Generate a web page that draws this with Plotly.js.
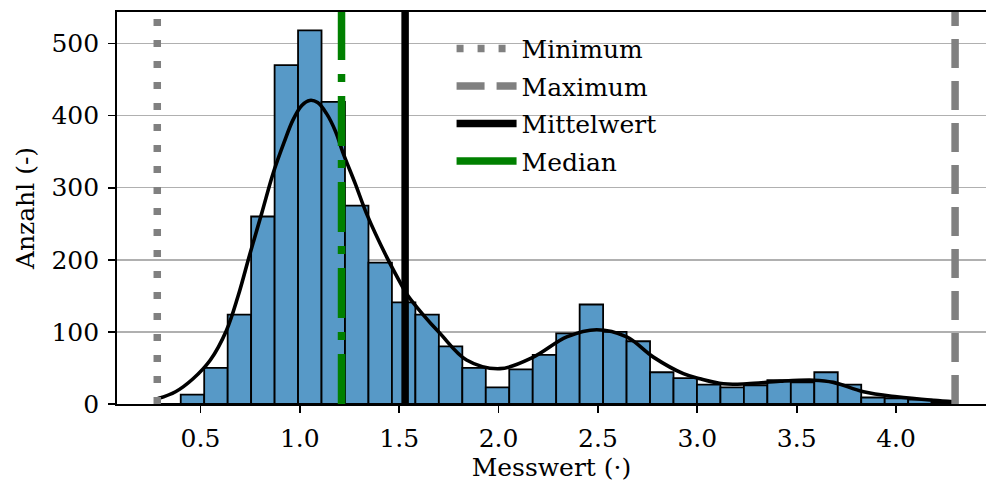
<!DOCTYPE html>
<html>
<head>
<meta charset="utf-8">
<script src="https://cdn.plot.ly/plotly-3.0.1.min.js"></script>
<style>html,body{margin:0;padding:0;background:#fff;}#chart{width:986px;height:482px;}</style>
</head>
<body>
<div id="chart"></div>
<script>
// ---- data ----
const minVal = 0.283;
const maxVal = 4.297;
const meanVal = 1.530;
const medianVal = 1.210;
const binCount = 34;
const binCounts = [0, 13, 50, 124, 260, 470, 518, 419, 275, 196, 141, 124, 80, 50, 23, 48, 68, 98, 138, 100, 87, 44, 36, 27, 23, 26, 33, 30, 44, 27, 9, 8, 6, 2];
const kdeX = [0.2865, 0.375, 0.463, 0.55, 0.631, 0.69, 0.748, 0.81, 0.866, 0.92, 0.966, 1.01, 1.050, 1.09, 1.134, 1.18, 1.218, 1.28, 1.336, 1.437, 1.517, 1.537, 1.62, 1.705, 1.839, 2.007, 2.175, 2.343, 2.494, 2.645, 2.779, 2.930, 3.014, 3.131, 3.249, 3.417, 3.585, 3.685, 3.836, 4.004, 4.189, 4.290];
const kdeY = [7.5, 17, 35, 61, 102, 150, 207, 266, 320, 362, 394, 414, 421, 418, 403, 378, 348, 305, 264, 204, 162.5, 153, 124, 98, 61, 49, 65, 93, 103, 93, 65, 42, 35, 28, 28, 31.5, 33, 30, 17, 10, 5, 3];
const xTickVals = [0.5, 1.0, 1.5, 2.0, 2.5, 3.0, 3.5, 4.0];
const xTickText = ["0.5", "1.0", "1.5", "2.0", "2.5", "3.0", "3.5", "4.0"];
const yTickVals = [0, 100, 200, 300, 400, 500];
const legendNames = ["Minimum", "Maximum", "Mittelwert", "Median"];
const xTitle = "Messwert (·)";
const yTitle = "Anzahl (-)";

// ---- derived ----
const binWidth = (maxVal - minVal) / binCount;
const binCenters = binCounts.map((_, i) => minVal + (i + 0.5) * binWidth);

const FONT = "DejaVu Serif";
const GRAY = "#808080";
const GREEN = "#008000";

const traces = [
  {
    type: "bar", x: binCenters, y: binCounts, width: binWidth,
    marker: {color: "#5799C7", line: {color: "#000", width: 1.8}},
    showlegend: false, hoverinfo: "skip"
  },
  {
    type: "scatter", mode: "lines", x: kdeX, y: kdeY,
    line: {color: "#000", width: 3.6, shape: "spline", smoothing: 1.0},
    showlegend: false, hoverinfo: "skip"
  },
  // legend entries
  {type: "scatter", mode: "lines", x: [null], y: [null], name: legendNames[0], legendgroup: "a",
   line: {color: GRAY, width: 7.5, dash: "7px,14px"}},
  {type: "scatter", mode: "lines", x: [null], y: [null], name: legendNames[1], legendgroup: "b",
   line: {color: GRAY, width: 7.5, dash: "28px,12px"}},
  {type: "scatter", mode: "lines", x: [null], y: [null], name: legendNames[2], legendgroup: "c",
   line: {color: "#000", width: 7.5}},
  {type: "scatter", mode: "lines", x: [null], y: [null], name: legendNames[3], legendgroup: "d",
   line: {color: GREEN, width: 7.5}}
];

function vline(x, color, dash, width) {
  return {type: "line", xref: "x", yref: "paper", x0: x, x1: x, y0: 0, y1: 1,
          line: {color: color, width: width, dash: dash}, layer: "above"};
}

const layout = {
  width: 986, height: 482,
  margin: {l: 117, r: 0, t: 12, b: 78},
  paper_bgcolor: "#fff", plot_bgcolor: "#fff",
  font: {family: FONT, size: 25, color: "#000"},
  bargap: 0,
  showlegend: true,
  legend: {
    x: 0.385, y: 0.965, xanchor: "left", yanchor: "top",
    bgcolor: "rgba(0,0,0,0)", borderwidth: 0,
    font: {family: FONT, size: 25, color: "#000"},
    itemwidth: 60, tracegroupgap: 2, traceorder: "grouped"
  },
  xaxis: {
    range: [0.0804, 4.4525], tickvals: xTickVals, ticktext: xTickText,
    ticks: "outside", ticklen: 7, tickwidth: 1.7, tickcolor: "#000",
    showline: true, linecolor: "#000", linewidth: 1.8, mirror: true,
    showgrid: false, zeroline: false, ticklabelstandoff: 4,
    title: {text: xTitle, font: {family: FONT, size: 25}, standoff: 8}
  },
  yaxis: {
    range: [0, 543.6], tickvals: yTickVals,
    ticks: "outside", ticklen: 7, tickwidth: 1.7, tickcolor: "#000",
    showline: true, linecolor: "#000", linewidth: 1.8, mirror: false,
    showgrid: true, gridcolor: "#b0b0b0", gridwidth: 1.6, zeroline: false,
    ticklabelstandoff: 4,
    title: {text: yTitle, font: {family: FONT, size: 25}, standoff: 10}
  },
  shapes: [
    vline(minVal, GRAY, "7px,14px", 7.5),
    vline(maxVal, GRAY, "29px,13px", 7.5),
    vline(meanVal, "#000", "solid", 7.5),
    vline(medianVal, GREEN, "50px,14px,8px,14px", 7.5)
  ]
};

Plotly.newPlot("chart", traces, layout, {displayModeBar: false, staticPlot: true});
</script>
</body>
</html>
